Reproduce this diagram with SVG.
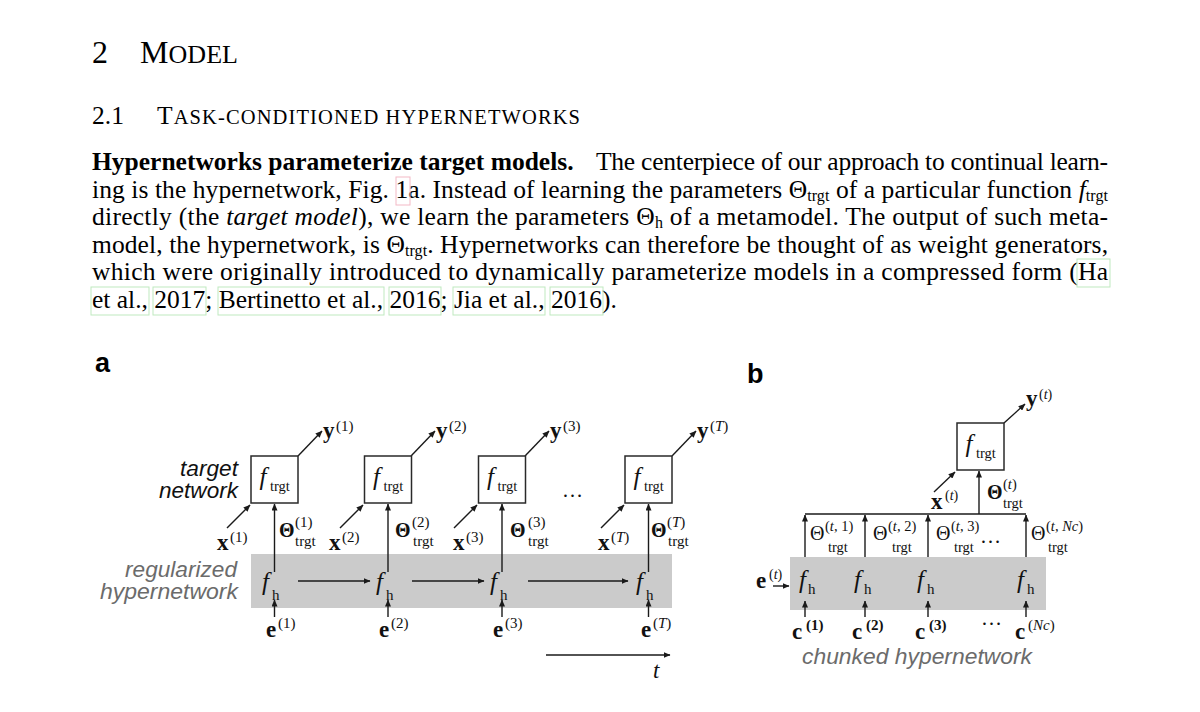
<svg xmlns="http://www.w3.org/2000/svg" width="1200" height="712" viewBox="0 0 1200 712">
<style>
.tx{font-family:"Liberation Serif","Times New Roman",serif;fill:#000}
.p{font-size:25.5px}
.sub{font-size:16px}
.m{font-family:"Liberation Serif","Times New Roman",serif;fill:#111}
.fi{font-style:italic;font-size:25px}
.s14{font-size:14.5px}
.s15{font-size:15px}
.s13{font-size:14px}
.bl{font-weight:bold;font-size:23px}
.th{font-weight:bold;font-size:20px}
.thb{font-size:20px}
.it{font-style:italic}
.sans{font-family:"Liberation Sans",Arial,sans-serif;font-style:italic;font-size:21.5px}
.lab{fill:#111}
.gl{fill:#6b6b6b}
.box{fill:#fff;stroke:#2a2a2a;stroke-width:1.5}
.c{stroke:#1a1a1a;stroke-width:1.4;fill:none}
.a{marker-end:url(#ah)}
.lk{fill:none;stroke:#bfe9bf;stroke-width:1}
.lp{fill:none;stroke:#f3b9c6;stroke-width:1}
.band{fill:#cbcbcb}
</style>
<defs>
<marker id="ah" viewBox="0 0 7 6" refX="6.5" refY="3" markerWidth="7" markerHeight="6" markerUnits="userSpaceOnUse" orient="auto"><path d="M0,0 L7,3 L0,6 z" fill="#1a1a1a"/></marker>
</defs>
<rect width="1200" height="712" fill="#fff"/>

<g id="heading">
<text class="tx" x="92" y="63" font-size="32">2</text>
<text class="tx" x="140" y="63" textLength="98" lengthAdjust="spacing"><tspan font-size="32">M</tspan><tspan font-size="26">ODEL</tspan></text>
<text class="tx" x="92" y="124" font-size="25.5">2.1</text>
<text class="tx" x="157" y="124" textLength="423" lengthAdjust="spacing"><tspan font-size="25.5">T</tspan><tspan font-size="20.5">ASK-CONDITIONED HYPERNETWORKS</tspan></text>
</g>

<g id="paragraph">
<text class="tx p" x="92" y="170" font-weight="bold">Hypernetworks parameterize target models.</text>
<text class="tx p" x="596" y="170" textLength="512" lengthAdjust="spacing">The centerpiece of our approach to continual learn-</text>
<text class="tx p" x="92" y="197.6" textLength="1016" lengthAdjust="spacing">ing is the hypernetwork, Fig. 1a. Instead of learning the parameters Θ<tspan class="sub" dy="3">trgt</tspan><tspan dy="-3"> of a particular function </tspan><tspan class="it">f</tspan><tspan class="sub" dy="3">trgt</tspan></text>
<text class="tx p" x="92" y="225.2" textLength="1016" lengthAdjust="spacing">directly (the <tspan class="it">target model</tspan>), we learn the parameters Θ<tspan class="sub" dy="3">h</tspan><tspan dy="-3"> of a metamodel. The output of such meta-</tspan></text>
<text class="tx p" x="92" y="252.8" textLength="1016" lengthAdjust="spacing">model, the hypernetwork, is Θ<tspan class="sub" dy="3">trgt</tspan><tspan dy="-3">. Hypernetworks can therefore be thought of as weight generators,</tspan></text>
<text class="tx p" x="92" y="280.4" textLength="1016" lengthAdjust="spacing">which were originally introduced to dynamically parameterize models in a compressed form (Ha</text>
<text class="tx p" x="92" y="308">et al., 2017; Bertinetto et al., 2016; Jia et al., 2016).</text>
<rect class="lp" x="396" y="177" width="14" height="28"/>
<rect class="lk" x="1077" y="259" width="33" height="28"/>
<rect class="lk" x="91" y="287" width="58" height="28"/>
<rect class="lk" x="153" y="287" width="53" height="28"/>
<rect class="lk" x="218" y="287" width="166" height="28"/>
<rect class="lk" x="389" y="287" width="52" height="28"/>
<rect class="lk" x="453" y="287" width="92" height="28"/>
<rect class="lk" x="550" y="287" width="53" height="28"/>
</g>

<g id="panel-a-label"><text x="95" y="372" font-family="Liberation Sans, Arial, sans-serif" font-weight="bold" font-size="27" fill="#000">a</text></g>
<g id="panel-b-label"><text x="747" y="383" font-family="Liberation Sans, Arial, sans-serif" font-weight="bold" font-size="27" fill="#000">b</text></g>

<g id="hyper-band-a"><rect class="band" x="251" y="554" width="421" height="54"/></g>
<g id="hyper-band-b"><rect class="band" x="790" y="557" width="256" height="53"/></g>

<g id="connectors">
<path class="c a" d="M274.5,572 V504"/>
<path class="c a" d="M388,572 V504"/>
<path class="c a" d="M502,572 V504"/>
<path class="c a" d="M648.5,572 V504"/>
<path class="c a" d="M227,528 L250,505"/>
<path class="c a" d="M340,528 L363,505"/>
<path class="c a" d="M454,528 L477,505"/>
<path class="c a" d="M601,528 L624,505"/>
<path class="c a" d="M298,456 L322,431"/>
<path class="c a" d="M411,456 L435,431"/>
<path class="c a" d="M525,456 L549,431"/>
<path class="c a" d="M672,456 L696,431"/>
<path class="c a" d="M298,581 H370"/>
<path class="c a" d="M412,581 H484"/>
<path class="c a" d="M528,581 H628"/>
<path class="c a" d="M274.5,617 V600"/>
<path class="c a" d="M388,617 V600"/>
<path class="c a" d="M502,617 V600"/>
<path class="c a" d="M648.5,617 V600"/>
<path class="c a" d="M546,655 H670"/>
<path class="c" d="M805,514 H1026"/>
<path class="c a" d="M979,514 V471"/>
<path class="c a" d="M805,557 V515"/>
<path class="c a" d="M865,557 V515"/>
<path class="c a" d="M928,557 V515"/>
<path class="c a" d="M1026,557 V515"/>
<path class="c a" d="M934,492 L955,472"/>
<path class="c a" d="M1004,423 L1025,404"/>
<path class="c a" d="M773,586 H789"/>
<path class="c a" d="M805,617 V601"/>
<path class="c a" d="M865,617 V601"/>
<path class="c a" d="M928,617 V601"/>
<path class="c a" d="M1026,617 V601"/>
</g>

<g id="labels-a">
<text class="sans lab" x="180" y="476" textLength="58" lengthAdjust="spacingAndGlyphs">target</text>
<text class="sans lab" x="159" y="498" textLength="79" lengthAdjust="spacingAndGlyphs">network</text>
<text class="sans gl" x="125" y="577" textLength="112" lengthAdjust="spacingAndGlyphs">regularized</text>
<text class="sans gl" x="100" y="599" textLength="138" lengthAdjust="spacingAndGlyphs">hypernetwork</text>
<text class="m" x="562" y="497" font-size="21">…</text>
<text class="m it" x="653" y="678" font-size="23">t</text>
</g>

<g id="ftrgt-1"><rect class="box" x="251" y="456" width="47" height="47"/><text class="m fi" x="259.5" y="485">f</text><text class="m s14" x="270" y="491">trgt</text></g>
<g id="ftrgt-2"><rect class="box" x="364.5" y="456" width="47" height="47"/><text class="m fi" x="373" y="485">f</text><text class="m s14" x="383.5" y="491">trgt</text></g>
<g id="ftrgt-3"><rect class="box" x="478.5" y="456" width="47" height="47"/><text class="m fi" x="487" y="485">f</text><text class="m s14" x="497.5" y="491">trgt</text></g>
<g id="ftrgt-T"><rect class="box" x="625" y="456" width="47" height="47"/><text class="m fi" x="633.5" y="485">f</text><text class="m s14" x="644" y="491">trgt</text></g>

<g id="theta-1"><text class="m th" x="279" y="537">Θ</text><text class="m s15" x="295" y="527">(1)</text><text class="m s15" x="295" y="546">trgt</text></g>
<g id="theta-2"><text class="m th" x="395" y="537">Θ</text><text class="m s15" x="412" y="527">(2)</text><text class="m s15" x="413" y="546">trgt</text></g>
<g id="theta-3"><text class="m th" x="510" y="537">Θ</text><text class="m s15" x="528" y="527">(3)</text><text class="m s15" x="528" y="546">trgt</text></g>
<g id="theta-T"><text class="m th" x="651" y="537">Θ</text><text class="m s15" x="667" y="527">(<tspan class="it">T</tspan>)</text><text class="m s15" x="668" y="546">trgt</text></g>

<g id="x-1"><text class="m bl" x="217" y="550">x</text><text class="m s15" x="230" y="542">(1)</text></g>
<g id="x-2"><text class="m bl" x="329" y="550">x</text><text class="m s15" x="342" y="542">(2)</text></g>
<g id="x-3"><text class="m bl" x="453" y="550">x</text><text class="m s15" x="466" y="542">(3)</text></g>
<g id="x-T"><text class="m bl" x="598" y="550">x</text><text class="m s15" x="611" y="542">(<tspan class="it">T</tspan>)</text></g>

<g id="y-1"><text class="m bl" x="323" y="438">y</text><text class="m s15" x="336" y="431">(1)</text></g>
<g id="y-2"><text class="m bl" x="436" y="438">y</text><text class="m s15" x="449" y="431">(2)</text></g>
<g id="y-3"><text class="m bl" x="550" y="438">y</text><text class="m s15" x="563" y="431">(3)</text></g>
<g id="y-T"><text class="m bl" x="697" y="438">y</text><text class="m s15" x="710" y="431">(<tspan class="it">T</tspan>)</text></g>

<g id="fh-1"><text class="m fi" x="262" y="590">f</text><text class="m s15" x="272" y="600">h</text></g>
<g id="fh-2"><text class="m fi" x="376" y="590">f</text><text class="m s15" x="386" y="600">h</text></g>
<g id="fh-3"><text class="m fi" x="490" y="590">f</text><text class="m s15" x="500" y="600">h</text></g>
<g id="fh-T"><text class="m fi" x="636" y="590">f</text><text class="m s15" x="646" y="600">h</text></g>

<g id="e-1"><text class="m bl" x="266" y="637">e</text><text class="m s15" x="278" y="628">(1)</text></g>
<g id="e-2"><text class="m bl" x="379" y="637">e</text><text class="m s15" x="391" y="628">(2)</text></g>
<g id="e-3"><text class="m bl" x="493" y="637">e</text><text class="m s15" x="505" y="628">(3)</text></g>
<g id="e-T"><text class="m bl" x="641" y="637">e</text><text class="m s15" x="653" y="628">(<tspan class="it">T</tspan>)</text></g>

<g id="ftrgt-b"><rect class="box" x="957" y="423" width="47" height="47"/><text class="m fi" x="965.5" y="452">f</text><text class="m s14" x="976" y="458">trgt</text></g>
<g id="y-b"><text class="m bl" x="1026" y="406">y</text><text class="m s13" x="1039" y="399">(<tspan class="it">t</tspan>)</text></g>
<g id="x-b"><text class="m bl" x="931" y="509">x</text><text class="m s13" x="945" y="500">(<tspan class="it">t</tspan>)</text></g>
<g id="theta-b"><text class="m th" x="987" y="499">Θ</text><text class="m s14" x="1003" y="489">(<tspan class="it">t</tspan>)</text><text class="m s14" x="1003" y="508">trgt</text></g>

<g id="theta-b1"><text class="m thb" x="810" y="540">Θ</text><text class="m s14" x="825" y="531">(<tspan class="it">t</tspan>, 1)</text><text class="m s14" x="828" y="552">trgt</text></g>
<g id="theta-b2"><text class="m thb" x="873" y="540">Θ</text><text class="m s14" x="888" y="531">(<tspan class="it">t</tspan>, 2)</text><text class="m s14" x="892" y="552">trgt</text></g>
<g id="theta-b3"><text class="m thb" x="936" y="540">Θ</text><text class="m s14" x="951" y="531">(<tspan class="it">t</tspan>, 3)</text><text class="m s14" x="954" y="552">trgt</text></g>
<g id="theta-bN"><text class="m thb" x="1031" y="540">Θ</text><text class="m s14" x="1046" y="531">(<tspan class="it">t</tspan>, <tspan class="it">Nc</tspan>)</text><text class="m s14" x="1048" y="552">trgt</text></g>
<g id="dots-b"><text class="m" x="980" y="543" font-size="21">…</text><text class="m" x="981" y="625" font-size="21">…</text></g>

<g id="e-b"><text class="m bl" x="756" y="588">e</text><text class="m s13" x="769" y="579">(<tspan class="it">t</tspan>)</text></g>

<g id="fh-b1"><text class="m fi" x="799" y="588">f</text><text class="m s15" x="808" y="594">h</text></g>
<g id="fh-b2"><text class="m fi" x="854" y="588">f</text><text class="m s15" x="864" y="594">h</text></g>
<g id="fh-b3"><text class="m fi" x="917" y="588">f</text><text class="m s15" x="927" y="594">h</text></g>
<g id="fh-b4"><text class="m fi" x="1017" y="588">f</text><text class="m s15" x="1027" y="594">h</text></g>

<g id="c-1"><text class="m bl" x="792" y="639">c</text><text class="m s15" x="806" y="630" font-weight="bold">(1)</text></g>
<g id="c-2"><text class="m bl" x="852" y="639">c</text><text class="m s15" x="866" y="630" font-weight="bold">(2)</text></g>
<g id="c-3"><text class="m bl" x="915" y="639">c</text><text class="m s15" x="929" y="630" font-weight="bold">(3)</text></g>
<g id="c-N"><text class="m bl" x="1015" y="639">c</text><text class="m s15" x="1028" y="630">(<tspan class="it">Nc</tspan>)</text></g>

<g id="chunked-label"><text class="sans gl" x="802" y="664" textLength="230" lengthAdjust="spacingAndGlyphs">chunked hypernetwork</text></g>
</svg>
